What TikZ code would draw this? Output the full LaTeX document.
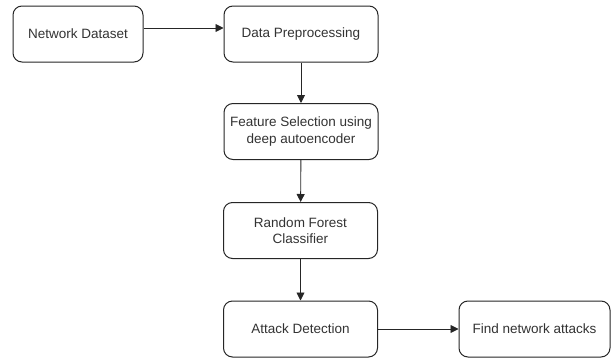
\documentclass[tikz,border=0pt]{standalone}
\usepackage{fontspec}
\setmainfont{Liberation Sans}
\usetikzlibrary{arrows.meta}
\begin{document}
\begin{tikzpicture}[x=1pt,y=-1pt,
  box/.style={draw=black!85, line width=1pt, rounded corners=9pt, fill=white,
    minimum width=154pt, minimum height=56pt, align=center, inner sep=2pt,
    font=\fontsize{13.5}{16.5}\selectfont, text=black!80},
  conn/.style={draw=black!85, line width=0.9pt, -{Triangle[length=8pt,width=8pt]}}]
\useasboundingbox (0,0) rectangle (611,359);
\node[box, minimum width=130pt] (nd) at (78,34) {Network Dataset};
\node[box] (dp) at (301,34) {Data Preprocessing};
\node[box] (fs) at (301,131.5) {Feature Selection using\\deep autoencoder};
\node[box] (rf) at (300.5,230.5) {Random Forest\\Classifier};
\node[box] (ad) at (300.5,329) {Attack Detection};
\node[box, minimum width=151pt] (fn) at (534.5,329) {Find network attacks};
\draw[conn] (nd.east |- 0,28) -- (dp.west |- 0,28);
\draw[conn] (dp) -- (fs);
\draw[conn] (fs) -- (rf);
\draw[conn] (rf) -- (ad);
\draw[conn] (ad) -- (fn);
\end{tikzpicture}
\end{document}
